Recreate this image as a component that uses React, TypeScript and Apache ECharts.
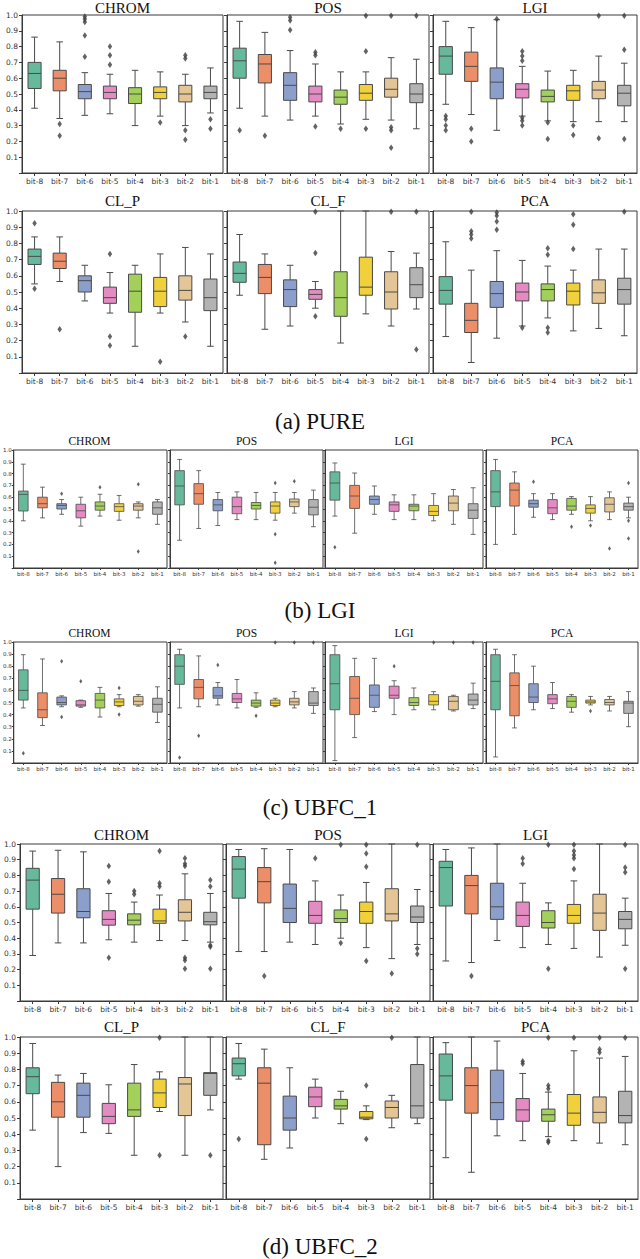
import React, { useEffect, useRef } from "react";
import * as echarts from "echarts";

const categories = ["bit-8", "bit-7", "bit-6", "bit-5", "bit-4", "bit-3", "bit-2", "bit-1"];
const palette = ["#66b99b", "#ec8e68", "#8c9fcb", "#e38bc2", "#a3d05a", "#f0d13c", "#e3c596", "#b3b3b3"];
const captions = ["(a) PURE", "(b) LGI", "(c) UBFC_1", "(d) UBFC_2"];

// each box: [lower whisker, Q1, median, Q3, upper whisker]
const pureChromBoxes = [[0.41,0.535,0.63,0.70,0.86],[0.345,0.52,0.60,0.65,0.83],[0.365,0.47,0.515,0.56,0.635],[0.375,0.47,0.51,0.55,0.625],[0.30,0.44,0.50,0.54,0.65],[0.36,0.47,0.51,0.545,0.64],[0.30,0.45,0.50,0.555,0.625],[0.38,0.47,0.51,0.55,0.665]];
const pureChromOutliers = [[],[0.31,0.235],[0.99,0.975,0.955,0.87,0.735],[0.80,0.745,0.685],[],[0.32],[0.745,0.725,0.27,0.21],[0.34,0.28]];
const purePosBoxes = [[0.41,0.60,0.71,0.79,0.96],[0.36,0.57,0.69,0.75,0.89],[0.335,0.46,0.555,0.635,0.775],[0.36,0.45,0.50,0.55,0.69],[0.31,0.435,0.48,0.525,0.64],[0.34,0.46,0.505,0.56,0.64],[0.335,0.48,0.53,0.60,0.73],[0.28,0.445,0.50,0.565,0.72]];
const purePosOutliers = [[0.27],[0.235],[0.985,0.965,0.905],[0.765,0.745,0.295],[0.28],[0.995,0.77,0.28],[0.995,0.29,0.27,0.16],[0.995]];
const pureLgiBoxes = [[0.435,0.625,0.74,0.80,0.96],[0.37,0.58,0.675,0.765,0.92],[0.27,0.47,0.575,0.665,0.97],[0.36,0.475,0.53,0.565,0.675],[0.33,0.45,0.485,0.525,0.645],[0.325,0.46,0.52,0.555,0.65],[0.325,0.47,0.525,0.58,0.74],[0.325,0.425,0.505,0.555,0.695]];
const pureLgiOutliers = [[0.36,0.34,0.30,0.27],[0.28,0.20],[0.975],[0.77,0.74,0.71,0.35,0.33,0.30],[0.32,0.215],[0.30,0.24],[0.995,0.22],[0.995,0.78,0.215]];
const pureClpBoxes = [[0.55,0.67,0.72,0.765,0.84],[0.565,0.645,0.69,0.74,0.84],[0.445,0.50,0.57,0.60,0.665],[0.37,0.43,0.465,0.53,0.62],[0.165,0.375,0.505,0.61,0.665],[0.37,0.41,0.505,0.59,0.735],[0.315,0.45,0.51,0.60,0.775],[0.165,0.385,0.465,0.58,0.735]];
const pureClpOutliers = [[0.925,0.52],[0.27],[],[0.735,0.225,0.17],[],[0.07],[0.225],[]];
const pureClfBoxes = [[0.48,0.56,0.615,0.685,0.855],[0.27,0.49,0.59,0.67,0.735],[0.29,0.41,0.515,0.575,0.665],[0.40,0.455,0.485,0.515,0.565],[0.185,0.35,0.465,0.625,1.0],[0.365,0.48,0.53,0.715,1.0],[0.29,0.395,0.50,0.625,0.75],[0.395,0.465,0.545,0.65,0.74]];
const pureClfOutliers = [[],[],[],[0.995,0.74,0.35],[],[],[0.995],[0.995,0.145]];
const purePcaBoxes = [[0.225,0.425,0.51,0.595,0.81],[0.065,0.25,0.325,0.43,0.635],[0.215,0.405,0.49,0.565,0.755],[0.29,0.445,0.50,0.555,0.695],[0.34,0.445,0.515,0.55,0.66],[0.26,0.42,0.505,0.555,0.635],[0.275,0.43,0.495,0.575,0.765],[0.23,0.425,0.515,0.585,0.765]];
const purePcaOutliers = [[],[0.995,0.875,0.855,0.83],[0.99,0.97,0.935,0.885],[0.28],[0.77,0.73,0.28,0.25],[0.98,0.915,0.765],[],[0.995]];

const lgiChromBoxes = [[0.40,0.483,0.624,0.652,0.88],[0.425,0.51,0.545,0.60,0.685],[0.455,0.50,0.53,0.545,0.58],[0.355,0.425,0.485,0.54,0.60],[0.44,0.49,0.525,0.56,0.625],[0.405,0.48,0.52,0.545,0.615],[0.425,0.49,0.525,0.545,0.56],[0.37,0.455,0.51,0.56,0.58]];
const lgiChromOutliers = [[],[],[0.63],[],[0.685],[],[0.71,0.14],[]];
const lgiPosBoxes = [[0.235,0.535,0.695,0.825,0.92],[0.335,0.54,0.63,0.715,0.825],[0.36,0.485,0.535,0.58,0.64],[0.41,0.46,0.52,0.60,0.645],[0.41,0.50,0.53,0.555,0.64],[0.405,0.465,0.525,0.56,0.64],[0.465,0.52,0.56,0.585,0.64],[0.35,0.45,0.515,0.58,0.66]];
const lgiPosOutliers = [[],[],[],[],[],[0.72,0.285,0.045],[0.735],[]];
const lgiLgiBoxes = [[0.44,0.575,0.72,0.815,0.89],[0.295,0.505,0.61,0.70,0.805],[0.455,0.54,0.58,0.61,0.695],[0.41,0.48,0.535,0.56,0.62],[0.41,0.485,0.525,0.54,0.62],[0.40,0.445,0.48,0.53,0.63],[0.37,0.485,0.55,0.61,0.665],[0.285,0.42,0.49,0.545,0.68]];
const lgiLgiOutliers = [[0.175],[],[],[],[],[],[],[]];
const lgiPcaBoxes = [[0.20,0.52,0.645,0.825,0.92],[0.285,0.525,0.66,0.72,0.815],[0.43,0.515,0.545,0.575,0.63],[0.41,0.46,0.51,0.58,0.63],[0.455,0.49,0.525,0.59,0.605],[0.40,0.465,0.505,0.535,0.605],[0.41,0.475,0.54,0.595,0.645],[0.425,0.49,0.52,0.55,0.60]];
const lgiPcaOutliers = [[],[],[0.73],[],[0.35],[0.36],[0.165],[0.72,0.40,0.25]];

const u1ChromBoxes = [[0.455,0.52,0.60,0.77,0.895],[0.31,0.375,0.44,0.58,0.86],[0.465,0.48,0.50,0.545,0.555],[0.46,0.47,0.48,0.515,0.52],[0.38,0.455,0.52,0.575,0.625],[0.465,0.475,0.505,0.53,0.565],[0.47,0.48,0.51,0.55,0.565],[0.335,0.42,0.485,0.535,0.63]];
const u1ChromOutliers = [[0.08],[],[0.84,0.38],[0.675],[],[0.62,0.40],[],[]];
const u1PosBoxes = [[0.455,0.65,0.80,0.895,0.94],[0.465,0.53,0.625,0.69,0.885],[0.48,0.535,0.555,0.625,0.665],[0.455,0.50,0.53,0.575,0.69],[0.46,0.47,0.495,0.52,0.58],[0.465,0.475,0.495,0.52,0.535],[0.455,0.48,0.505,0.535,0.59],[0.41,0.475,0.495,0.59,0.62]];
const u1PosOutliers = [[0.045],[0.225],[0.81],[],[0.39],[0.995],[0.995],[0.995]];
const u1LgiBoxes = [[0.02,0.44,0.655,0.895,0.97],[0.21,0.40,0.535,0.715,0.865],[0.425,0.46,0.56,0.645,0.865],[0.40,0.535,0.56,0.635,0.68],[0.44,0.475,0.50,0.54,0.62],[0.44,0.48,0.51,0.565,0.59],[0.43,0.44,0.51,0.55,0.56],[0.45,0.48,0.52,0.57,0.66]];
const u1LgiOutliers = [[],[],[],[0.80],[],[0.995],[0.995],[0.995]];
const u1PcaBoxes = [[0.05,0.44,0.675,0.895,0.94],[0.29,0.39,0.64,0.745,0.895],[0.44,0.50,0.545,0.655,0.80],[0.45,0.49,0.53,0.565,0.665],[0.42,0.46,0.51,0.55,0.565],[0.48,0.495,0.505,0.52,0.55],[0.43,0.48,0.50,0.525,0.55],[0.30,0.41,0.495,0.51,0.59]];
const u1PcaOutliers = [[],[],[],[],[],[0.43],[],[]];

const u2ChromBoxes = [[0.29,0.585,0.77,0.845,0.955],[0.37,0.56,0.68,0.78,0.96],[0.37,0.53,0.57,0.715,0.95],[0.39,0.483,0.52,0.575,0.685],[0.375,0.485,0.515,0.555,0.63],[0.385,0.495,0.51,0.585,0.675],[0.385,0.51,0.565,0.645,0.81],[0.375,0.485,0.505,0.565,0.685]];
const u2ChromOutliers = [[],[],[],[0.86,0.76,0.275],[0.70,0.68],[0.955,0.75,0.73],[0.91,0.875,0.86,0.275,0.26,0.205],[0.77,0.73,0.355,0.345,0.205]];
const u2PosBoxes = [[0.315,0.655,0.84,0.92,0.965],[0.315,0.625,0.76,0.85,0.97],[0.375,0.50,0.59,0.745,0.965],[0.36,0.495,0.545,0.635,0.765],[0.40,0.50,0.525,0.58,0.675],[0.34,0.495,0.57,0.63,0.755],[0.27,0.51,0.555,0.715,1.0],[0.36,0.50,0.535,0.605,0.71]];
const u2PosOutliers = [[],[0.16],[],[0.91],[0.995,0.37],[0.995,0.94,0.855,0.255],[0.175],[0.995,0.335,0.30]];
const u2LgiBoxes = [[0.255,0.605,0.85,0.89,0.965],[0.245,0.555,0.735,0.80,0.975],[0.385,0.52,0.60,0.75,1.0],[0.34,0.475,0.545,0.63,0.75],[0.36,0.465,0.50,0.575,0.625],[0.335,0.495,0.545,0.615,0.765],[0.28,0.45,0.56,0.68,1.0],[0.355,0.46,0.52,0.57,0.655]];
const u2LgiOutliers = [[],[0.16],[],[0.91,0.875],[0.995,0.205],[0.995,0.955,0.93,0.91,0.84],[],[0.995,0.85,0.82,0.205]];
const u2ClpBoxes = [[0.425,0.65,0.755,0.81,0.96],[0.20,0.505,0.60,0.72,0.765],[0.41,0.505,0.64,0.715,0.775],[0.405,0.465,0.51,0.59,0.705],[0.27,0.51,0.55,0.715,0.83],[0.54,0.565,0.655,0.74,0.785],[0.27,0.515,0.71,0.75,1.0],[0.55,0.64,0.775,0.78,1.0]];
const u2ClpOutliers = [[],[],[],[],[],[0.995,0.27],[],[0.27]];
const u2ClfBoxes = [[0.74,0.76,0.835,0.87,0.96],[0.245,0.335,0.715,0.81,0.925],[0.315,0.425,0.50,0.635,0.81],[0.50,0.57,0.63,0.69,0.74],[0.465,0.555,0.575,0.615,0.665],[0.49,0.495,0.505,0.54,0.575],[0.44,0.50,0.565,0.605,0.64],[0.465,0.50,0.575,0.83,1.0]];
const u2ClfOutliers = [[0.37],[],[],[],[],[0.70,0.37],[0.995],[]];
const u2PcaBoxes = [[0.255,0.61,0.76,0.895,0.965],[0.165,0.53,0.70,0.81,1.0],[0.39,0.49,0.595,0.795,0.975],[0.36,0.48,0.55,0.62,0.775],[0.385,0.48,0.52,0.555,0.66],[0.36,0.455,0.53,0.645,0.915],[0.345,0.47,0.535,0.63,0.87],[0.335,0.47,0.515,0.665,0.88]];
const u2PcaOutliers = [[],[],[],[0.85,0.835],[0.995,0.70,0.68,0.36,0.35],[0.995],[0.995,0.925,0.905],[0.995]];

type Panel = { title: string; boxes: number[][]; outliers: number[][]; col: number[]; row: number[]; showY: boolean; small: boolean };

const colsWide = [[22, 201], [227, 202], [433, 204]];
const colsNarrow = [[12, 155], [170, 153], [325, 158], [486, 152]];
const colsWideD = [[20, 203], [226, 204], [433, 205]];
// [top, height, titleY]
const rowA1 = [15, 158, 8];
const rowA2 = [211, 162, 201];
const rowB = [450, 118, 441];
const rowC = [642, 121, 633];
const rowD1 = [844, 157, 835];
const rowD2 = [1037, 162, 1027];
const captionY = [421, 610, 807, 1246];

const panels: Panel[] = [
  { title: "CHROM", boxes: pureChromBoxes, outliers: pureChromOutliers, col: colsWide[0], row: rowA1, showY: true, small: false },
  { title: "POS", boxes: purePosBoxes, outliers: purePosOutliers, col: colsWide[1], row: rowA1, showY: false, small: false },
  { title: "LGI", boxes: pureLgiBoxes, outliers: pureLgiOutliers, col: colsWide[2], row: rowA1, showY: false, small: false },
  { title: "CL_P", boxes: pureClpBoxes, outliers: pureClpOutliers, col: colsWide[0], row: rowA2, showY: true, small: false },
  { title: "CL_F", boxes: pureClfBoxes, outliers: pureClfOutliers, col: colsWide[1], row: rowA2, showY: false, small: false },
  { title: "PCA", boxes: purePcaBoxes, outliers: purePcaOutliers, col: colsWide[2], row: rowA2, showY: false, small: false },
  { title: "CHROM", boxes: lgiChromBoxes, outliers: lgiChromOutliers, col: colsNarrow[0], row: rowB, showY: true, small: true },
  { title: "POS", boxes: lgiPosBoxes, outliers: lgiPosOutliers, col: colsNarrow[1], row: rowB, showY: false, small: true },
  { title: "LGI", boxes: lgiLgiBoxes, outliers: lgiLgiOutliers, col: colsNarrow[2], row: rowB, showY: false, small: true },
  { title: "PCA", boxes: lgiPcaBoxes, outliers: lgiPcaOutliers, col: colsNarrow[3], row: rowB, showY: false, small: true },
  { title: "CHROM", boxes: u1ChromBoxes, outliers: u1ChromOutliers, col: colsNarrow[0], row: rowC, showY: true, small: true },
  { title: "POS", boxes: u1PosBoxes, outliers: u1PosOutliers, col: colsNarrow[1], row: rowC, showY: false, small: true },
  { title: "LGI", boxes: u1LgiBoxes, outliers: u1LgiOutliers, col: colsNarrow[2], row: rowC, showY: false, small: true },
  { title: "PCA", boxes: u1PcaBoxes, outliers: u1PcaOutliers, col: colsNarrow[3], row: rowC, showY: false, small: true },
  { title: "CHROM", boxes: u2ChromBoxes, outliers: u2ChromOutliers, col: colsWideD[0], row: rowD1, showY: true, small: false },
  { title: "POS", boxes: u2PosBoxes, outliers: u2PosOutliers, col: colsWideD[1], row: rowD1, showY: false, small: false },
  { title: "LGI", boxes: u2LgiBoxes, outliers: u2LgiOutliers, col: colsWideD[2], row: rowD1, showY: false, small: false },
  { title: "CL_P", boxes: u2ClpBoxes, outliers: u2ClpOutliers, col: colsWideD[0], row: rowD2, showY: true, small: false },
  { title: "CL_F", boxes: u2ClfBoxes, outliers: u2ClfOutliers, col: colsWideD[1], row: rowD2, showY: false, small: false },
  { title: "PCA", boxes: u2PcaBoxes, outliers: u2PcaOutliers, col: colsWideD[2], row: rowD2, showY: false, small: false },
];

const EDGE = "#4a4a4a";
const SPINE = "#3a3a3a";

function makeRenderItem(frac: number, lw: number) {
  return (params: any, api: any) => {
    const k = api.value(0);
    const lo = api.coord([k, api.value(1)]);
    const q1 = api.coord([k, api.value(2)]);
    const md = api.coord([k, api.value(3)]);
    const q3 = api.coord([k, api.value(4)]);
    const hi = api.coord([k, api.value(5)]);
    const band = api.size([1, 0])[0];
    const w = band * frac;
    const cx = lo[0];
    const ls = { stroke: EDGE, lineWidth: lw };
    return {
      type: "group",
      children: [
        { type: "line", shape: { x1: cx, y1: hi[1], x2: cx, y2: q3[1] }, style: ls },
        { type: "line", shape: { x1: cx, y1: q1[1], x2: cx, y2: lo[1] }, style: ls },
        { type: "line", shape: { x1: cx - w / 4, y1: hi[1], x2: cx + w / 4, y2: hi[1] }, style: ls },
        { type: "line", shape: { x1: cx - w / 4, y1: lo[1], x2: cx + w / 4, y2: lo[1] }, style: ls },
        { type: "rect", shape: { x: cx - w / 2, y: q3[1], width: w, height: q1[1] - q3[1] }, style: { fill: palette[params.dataIndex % 8], stroke: EDGE, lineWidth: lw } },
        { type: "line", shape: { x1: cx - w / 2, y1: md[1], x2: cx + w / 2, y2: md[1] }, style: ls },
      ],
    };
  };
}

export default function App() {
  const ref = useRef<HTMLDivElement>(null);
  useEffect(() => {
    if (!ref.current) return;
    const chart = echarts.init(ref.current, null, { renderer: "svg" });
    const grid: any[] = [];
    const xAxis: any[] = [];
    const yAxis: any[] = [];
    const series: any[] = [];
    const graphic: any[] = [];
    panels.forEach((p, i) => {
      const fs = p.small ? 5.5 : 7.5;
      grid.push({ left: p.col[0], top: p.row[0], width: p.col[1], height: p.row[1], show: true, borderColor: SPINE, borderWidth: 1, backgroundColor: "#ffffff" });
      xAxis.push({
        gridIndex: i, type: "category", data: categories, boundaryGap: true,
        axisLine: { show: true, lineStyle: { color: SPINE, width: 1 } },
        axisTick: { show: true, alignWithLabel: true, length: p.small ? 2 : 3, lineStyle: { color: SPINE } },
        axisLabel: { interval: 0, fontSize: fs, color: "#333", margin: p.small ? 3 : 4, fontFamily: "DejaVu Sans" },
        splitLine: { show: false },
      });
      yAxis.push({
        gridIndex: i, type: "value", min: 0, max: 1, interval: 0.1,
        axisLine: { show: true, lineStyle: { color: SPINE, width: 1 } },
        axisTick: { show: true, length: p.small ? 2 : 3, lineStyle: { color: SPINE } },
        axisLabel: { show: p.showY, fontSize: fs, color: "#333", margin: p.small ? 2 : 4, fontFamily: "DejaVu Sans", formatter: (v: number) => (v < 0.05 ? "" : v.toFixed(1)) },
        splitLine: { show: false },
      });
      series.push({
        type: "custom", xAxisIndex: i, yAxisIndex: i,
        renderItem: makeRenderItem(p.small ? 0.5 : 0.52, p.small ? 0.8 : 1),
        encode: { x: 0, y: [1, 2, 3, 4, 5] },
        data: p.boxes.map((b, k) => [k, ...b]),
        z: 2,
      });
      const pts: number[][] = [];
      p.outliers.forEach((arr, k) => arr.forEach((v) => pts.push([k, v])));
      series.push({
        type: "scatter", xAxisIndex: i, yAxisIndex: i, data: pts,
        symbol: "diamond", symbolSize: p.small ? [3, 4.5] : [4.5, 6.5],
        itemStyle: { color: "#3d3d3d" }, z: 3,
      });
      graphic.push({
        type: "text", x: p.col[0] + p.col[1] / 2, y: p.row[2],
        style: { text: p.title, textAlign: "center", textVerticalAlign: "middle", font: `${p.small ? 11.5 : 15}px "Liberation Serif"`, fill: "#111" },
      });
    });
    captions.forEach((c, i) => {
      graphic.push({
        type: "text", x: 320, y: captionY[i],
        style: { text: c, textAlign: "center", textVerticalAlign: "middle", font: '23px "Liberation Serif"', fill: "#111" },
      });
    });
    chart.setOption({ animation: false, backgroundColor: "#ffffff", grid, xAxis, yAxis, series, graphic });
    return () => chart.dispose();
  }, []);
  return <div ref={ref} style={{ position: "absolute", left: 0, top: 0, width: 640, height: 1259 }} />;
}
